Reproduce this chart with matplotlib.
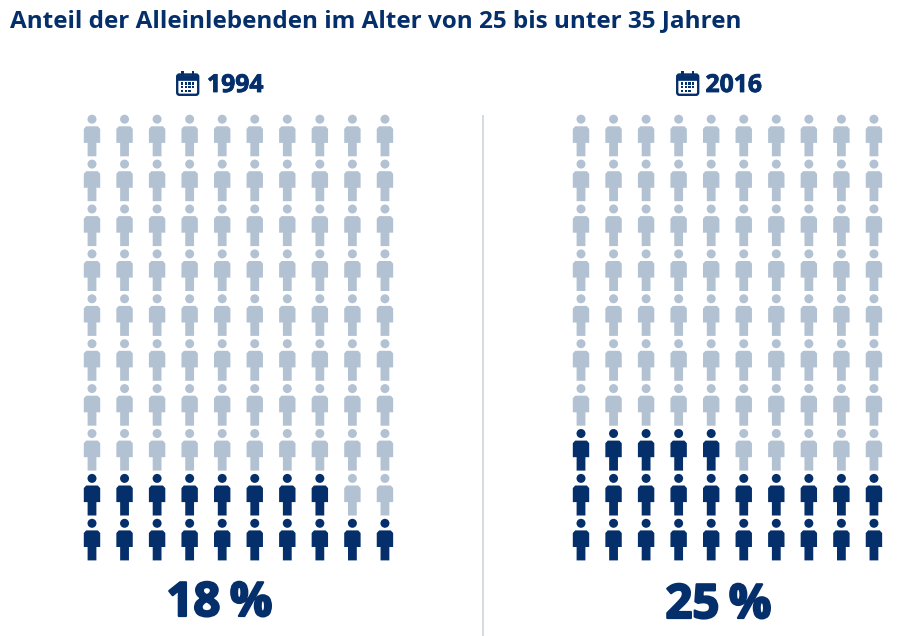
import matplotlib
matplotlib.use("Agg")
import matplotlib.pyplot as plt
import matplotlib.patheffects as pe
from matplotlib.path import Path
from matplotlib.patches import Rectangle, FancyBboxPatch

title = "Anteil der Alleinlebenden im Alter von 25 bis unter 35 Jahren"
years = ["1994", "2016"]
shares = [18, 25]
total_rows = 10
total_cols = 10
dark = "#042F6B"
light = "#B3C2D3"
sep = "#CFD9E2"
W, H = 901, 636
plt.rcParams['font.family'] = ['Open Sans', 'DejaVu Sans']

fig = plt.figure(figsize=(W/100, H/100), dpi=100, facecolor="white")

def person():
    head = Path.circle((0, 16.3), 4.5)
    v = [(-4.4, -20.8), (4.4, -20.8), (4.4, -7.4), (8.2, -7.4), (8.2, 6.6), (5.8, 9.2), (-5.8, 9.2), (-8.2, 6.6), (-8.2, -7.4), (-4.4, -7.4), (-4.4, -20.8)]
    c = [Path.MOVETO] + [Path.LINETO]*9 + [Path.CLOSEPOLY]
    return Path.make_compound_path(head, Path(v, c))

marker = person()
size = (41.6*72/100)**2

def panel(x0, share):
    dx, dy = 32.55, 44.9
    left = x0 - dx/2; bottom_px = 539.6 + dy/2
    ax = fig.add_axes([left/W, 1-bottom_px/H, dx*total_cols/W, dy*total_rows/H])
    ax.set_xlim(-0.5, total_cols-0.5); ax.set_ylim(-0.5, total_rows-0.5); ax.axis("off")
    n = total_cols*total_rows
    xs = [i % total_cols for i in range(n)]
    ys = [i // total_cols for i in range(n)]
    cols = [dark if i < share else light for i in range(n)]
    ax.scatter(xs, ys, s=size, marker=marker, c=cols, linewidths=0, clip_on=False)

panel(92, shares[0])
panel(581, shares[1])

fig.text(10/W, 1-21/H, title, fontsize=17.45, fontweight="bold", color=dark, va="center", ha="left")

ov = fig.add_axes([0, 0, 1, 1]); ov.set_xlim(0, W); ov.set_ylim(H, 0); ov.axis("off"); ov.patch.set_alpha(0)
ov.plot([483.3, 483.3], [115, 636], color=sep, lw=1.3, solid_capstyle="butt")

def cal(x, y):
    ov.add_patch(FancyBboxPatch((x+1.2, y+3.5), 21, 20.3, boxstyle="round,pad=0,rounding_size=2.2", fc="white", ec=dark, lw=1.7))
    ov.add_patch(Rectangle((x+1.2, y+3.5), 21, 5.3, fc=dark, ec=dark, lw=0.5))
    for px in (x+6.5, x+17):
        ov.add_patch(Rectangle((px-1.1, y), 2.2, 4.5, fc=dark, ec="none"))
    for r in range(3):
        for c in range(4 if r < 2 else 3):
            ov.add_patch(Rectangle((x+5+c*3.7, y+11.4+r*3.6), 2.3, 2.3, fc=dark, ec="none"))

cal(176, 71)
cal(676, 71)
thin = [pe.withStroke(linewidth=0.6, foreground=dark)]
thick = [pe.withStroke(linewidth=1.6, foreground=dark)]
ov.text(207, 85.5, years[0], fontsize=17.8, fontweight="bold", color=dark, va="center", ha="left", path_effects=thin)
ov.text(705.5, 85.5, years[1], fontsize=17.8, fontweight="bold", color=dark, va="center", ha="left", path_effects=thin)
ov.text(219.5, 616, f"{shares[0]}\u2009%", fontsize=34, fontweight="bold", color=dark, va="baseline", ha="center", path_effects=thick)
ov.text(718.5, 618, f"{shares[1]}\u2009%", fontsize=34, fontweight="bold", color=dark, va="baseline", ha="center", path_effects=thick)

fig.savefig("out.png", dpi=100, facecolor="white")
